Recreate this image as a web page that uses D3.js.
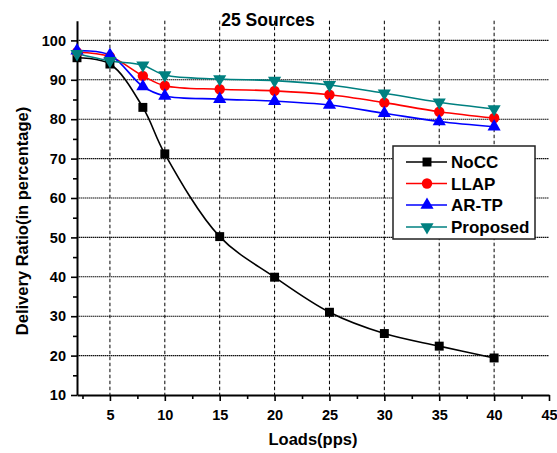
<!DOCTYPE html>
<html>
<head>
<meta charset="utf-8">
<script src="https://cdn.jsdelivr.net/npm/d3@7"></script>
<style>
  html, body { margin: 0; padding: 0; background: #fff; }
  svg { display: block; font-family: "Liberation Sans", Arial, sans-serif; }
</style>
</head>
<body>
<svg id="chart" width="557" height="453"></svg>
<script>
// Delivery ratio vs. offered load, 25 sources
const loads    = [2, 5, 8, 10, 15, 20, 25, 30, 35, 40];
const noCC     = [95.6, 94.0, 83.0, 71.2, 50.2, 39.9, 31.0, 25.6, 22.4, 19.4];
const llap     = [97.0, 95.9, 91.0, 88.5, 87.6, 87.2, 86.2, 84.2, 81.9, 80.3];
const arTp     = [97.4, 96.3, 88.3, 85.9, 85.1, 84.6, 83.6, 81.5, 79.4, 78.1];
const proposed = [96.6, 94.8, 93.7, 91.2, 90.2, 89.8, 88.7, 86.6, 84.3, 82.6];

const seriesNames = ["NoCC", "LLAP", "AR-TP", "Proposed"];
const xTicks = [5, 10, 15, 20, 25, 30, 35, 40, 45];
const xMinorTicks = [2.5, 7.5, 12.5, 17.5, 22.5, 27.5, 32.5, 37.5, 42.5];
const yTicks = [10, 20, 30, 40, 50, 60, 70, 80, 90, 100];
const yMinorTicks = [15, 25, 35, 45, 55, 65, 75, 85, 95];
const xGrid = [5, 10, 15, 20, 25, 30, 35, 40];
const yGrid = [20, 30, 40, 50, 60, 70, 80, 90, 100];

const series = [
  { name: seriesNames[0], values: noCC,     color: "#000000", symbol: d3.symbolSquare,   size: 80,  rotate: 0 },
  { name: seriesNames[1], values: llap,     color: "#ff0000", symbol: d3.symbolCircle,   size: 85,  rotate: 0 },
  { name: seriesNames[2], values: arTp,     color: "#0000ff", symbol: d3.symbolTriangle, size: 75,  rotate: 0 },
  { name: seriesNames[3], values: proposed, color: "#008080", symbol: d3.symbolTriangle, size: 75,  rotate: 180 }
];

const svg = d3.select("#chart");
const plotLeft = 77, plotRight = 549, plotTop = 20.7, plotBottom = 395;

const x = d3.scaleLinear().domain([2, 45]).range([plotLeft, plotRight]);
const y = d3.scaleLinear().domain([10, 105]).range([plotBottom, plotTop]);

// Grid lines
const grid = svg.append("g");
grid.selectAll("line.h").data(yGrid).join("line")
  .attr("x1", plotLeft).attr("x2", plotRight)
  .attr("y1", d => y(d)).attr("y2", d => y(d))
  .attr("stroke", "#111").attr("stroke-width", 1.1)
  .attr("stroke-dasharray", "1.5,0.5");
grid.selectAll("line.v").data(xGrid).join("line")
  .attr("x1", d => x(d)).attr("x2", d => x(d))
  .attr("y1", plotTop).attr("y2", plotBottom)
  .attr("stroke", "#000").attr("stroke-width", 1)
  .attr("stroke-dasharray", "3.5,2.5");

// Axes
const fontTick = "bold 14.5px 'Liberation Sans', Arial, sans-serif";

const xAxis = svg.append("g").attr("transform", `translate(0,${plotBottom})`)
  .call(d3.axisBottom(x).tickValues(xTicks).tickSize(6).tickPadding(5).tickSizeOuter(0));
svg.append("g").attr("transform", `translate(0,${plotBottom})`)
  .call(d3.axisBottom(x).tickValues(xMinorTicks).tickSize(4).tickFormat("").tickSizeOuter(0))
  .select(".domain").remove();

const yAxis = svg.append("g").attr("transform", `translate(${plotLeft},0)`)
  .call(d3.axisLeft(y).tickValues(yTicks).tickSize(6).tickPadding(5).tickSizeOuter(0));
svg.append("g").attr("transform", `translate(${plotLeft},0)`)
  .call(d3.axisLeft(y).tickValues(yMinorTicks).tickSize(4).tickFormat("").tickSizeOuter(0))
  .select(".domain").remove();

svg.selectAll(".domain").attr("stroke", "#000").attr("stroke-width", 2);
svg.selectAll(".tick line").attr("stroke", "#000").attr("stroke-width", 1.6);
svg.selectAll(".tick text").style("font", fontTick).attr("fill", "#000");
xAxis.selectAll(".tick text").attr("dy", "0.95em");

// Series lines and markers
const line = d3.line()
  .x((d, i) => x(loads[i]))
  .y(d => y(d))
  .curve(d3.curveCatmullRom.alpha(0.5));

series.forEach(s => {
  svg.append("path")
    .attr("d", line(s.values))
    .attr("fill", "none")
    .attr("stroke", s.color)
    .attr("stroke-width", 1.6);
});
series.forEach(s => {
  const sym = d3.symbol().type(s.symbol).size(s.size);
  svg.append("g").selectAll("path").data(s.values).join("path")
    .attr("d", sym)
    .attr("transform", (d, i) => `translate(${x(loads[i])},${y(d)}) rotate(${s.rotate})`)
    .attr("fill", s.color);
});

// Title and axis titles
svg.append("text")
  .attr("x", 268).attr("y", 25.5).attr("text-anchor", "middle")
  .style("font", "bold 17.5px 'Liberation Sans', Arial, sans-serif")
  .text("25 Sources");

svg.append("text")
  .attr("x", 313).attr("y", 445).attr("text-anchor", "middle")
  .style("font", "bold 16.5px 'Liberation Sans', Arial, sans-serif")
  .text("Loads(pps)");

svg.append("text")
  .attr("transform", "translate(28,221) rotate(-90)")
  .attr("text-anchor", "middle")
  .style("font", "bold 16.5px 'Liberation Sans', Arial, sans-serif")
  .text("Delivery Ratio(in percentage)");

// Legend
const legend = svg.append("g");
legend.append("rect")
  .attr("x", 393).attr("y", 146).attr("width", 142).attr("height", 93)
  .attr("fill", "#fff").attr("stroke", "#222").attr("stroke-width", 1.5);
const rowY = [162, 183.5, 205, 227];
series.forEach((s, i) => {
  const g = legend.append("g").attr("transform", `translate(0,${rowY[i]})`);
  g.append("line").attr("x1", 406).attr("x2", 447).attr("y1", 0).attr("y2", 0)
    .attr("stroke", s.color).attr("stroke-width", 1.6);
  g.append("path").attr("d", d3.symbol().type(s.symbol).size(s.size)())
    .attr("transform", `translate(427,0) rotate(${s.rotate})`)
    .attr("fill", s.color);
  g.append("text").attr("x", 451).attr("y", 6)
    .style("font", "bold 17px 'Liberation Sans', Arial, sans-serif")
    .text(s.name);
});
</script>
</body>
</html>
